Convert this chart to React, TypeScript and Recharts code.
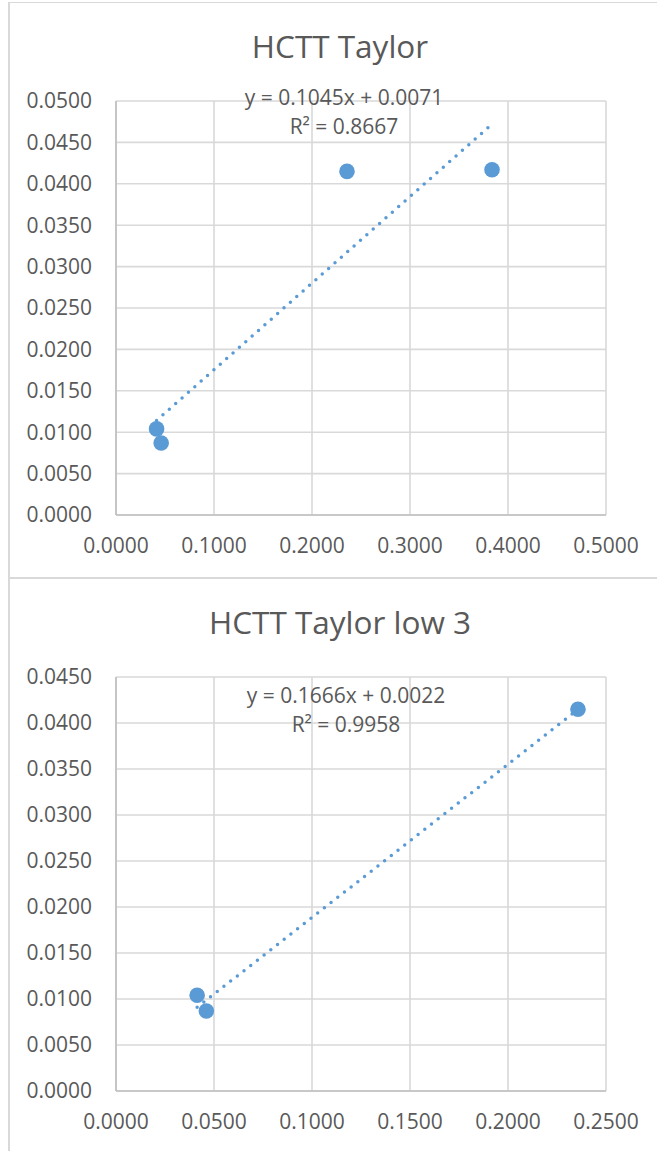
import { ScatterChart, Scatter, XAxis, YAxis, CartesianGrid } from 'recharts';

const ratioX = [0.0414, 0.0461, 0.2357, 0.3837];
const ratioY = [0.0104, 0.0087, 0.0415, 0.0417];

const topTicksX = [0, 0.1, 0.2, 0.3, 0.4, 0.5];
const topTicksY = [0, 0.005, 0.01, 0.015, 0.02, 0.025, 0.03, 0.035, 0.04, 0.045, 0.05];
const lowTicksX = [0, 0.05, 0.1, 0.15, 0.2, 0.25];
const lowTicksY = [0, 0.005, 0.01, 0.015, 0.02, 0.025, 0.03, 0.035, 0.04, 0.045];

// trendline: slope, intercept, R²
const topFit = [0.1045, 0.0071, 0.8667];
const lowFit = [0.1666, 0.0022, 0.9958];

const BLUE = '#5b9bd5';
const TEXT = '#595959';
const FONT = '"Open Sans", sans-serif';

const W = 657;
const H = 576;

const Dot = (props: any) => <circle cx={props.cx} cy={props.cy} r={7.8} fill={BLUE} />;

const Panel = ({ title, xs, ys, ticksX, ticksY, fit, top, labelX, labelY }: any) => {
    const points = xs.map((x: number, i: number) => ({ x, y: ys[i] }));
    const xMin = Math.min(...xs);
    const xMax = Math.max(...xs);
    const trend = [
        { x: xMin, y: fit[0] * xMin + fit[1] },
        { x: xMax, y: fit[0] * xMax + fit[1] },
    ];
    const tick = { fill: TEXT, fontSize: 21, fontFamily: FONT };

    return (
        <div style={{ position: 'absolute', left: 0, top, width: W, height: H }}>
            <ScatterChart width={W} height={H} margin={{ top: 101, right: 51, left: 0, bottom: 31 }}>
                <CartesianGrid stroke="#d9d9d9" strokeWidth={1.6} />
                <XAxis
                    type="number"
                    dataKey="x"
                    domain={[ticksX[0], ticksX[ticksX.length - 1]]}
                    ticks={ticksX}
                    tickFormatter={(v: number) => v.toFixed(4)}
                    tick={tick}
                    tickLine={false}
                    tickSize={0}
                    tickMargin={23}
                    height={30}
                    axisLine={{ stroke: '#bfbfbf', strokeWidth: 1.6 }}
                    allowDataOverflow
                />
                <YAxis
                    type="number"
                    dataKey="y"
                    domain={[ticksY[0], ticksY[ticksY.length - 1]]}
                    ticks={ticksY}
                    tickFormatter={(v: number) => v.toFixed(4)}
                    tick={tick}
                    tickLine={false}
                    tickSize={0}
                    tickMargin={24}
                    width={116}
                    axisLine={{ stroke: '#bfbfbf', strokeWidth: 1.6 }}
                    allowDataOverflow
                />
                <Scatter
                    data={trend}
                    line={{ stroke: BLUE, strokeWidth: 3.5, strokeDasharray: '0 8.5', strokeLinecap: 'round' }}
                    shape={() => <g />}
                    isAnimationActive={false}
                />
                <Scatter data={points} shape={Dot} isAnimationActive={false} />
            </ScatterChart>
            <svg width={W} height={H} style={{ position: 'absolute', left: 0, top: 0, pointerEvents: 'none' }}>
                <text x={340} y={58} textAnchor="middle" fill={TEXT} fontSize={31.5} fontFamily={FONT}>
                    {title}
                </text>
                <text x={labelX} y={labelY} textAnchor="middle" fill={TEXT} fontSize={21} fontFamily={FONT}>
                    {`y = ${fit[0].toFixed(4)}x + ${fit[1].toFixed(4)}`}
                </text>
                <text x={labelX} y={labelY + 29} textAnchor="middle" fill={TEXT} fontSize={21} fontFamily={FONT}>
                    {`R² = ${fit[2].toFixed(4)}`}
                </text>
            </svg>
        </div>
    );
};

export default function App() {
    return (
        <div style={{ position: 'absolute', left: 0, top: 0, width: W, height: 1151, overflow: 'hidden', background: '#fff' }}>
            <div style={{ position: 'absolute', left: 8, top: 2, width: 700, height: 574, borderLeft: '2px solid #d9d9d9', borderTop: '1px solid #d9d9d9', borderBottom: '2px solid #d9d9d9' }} />
            <div style={{ position: 'absolute', left: 8, top: 578, width: 700, height: 600, borderLeft: '2px solid #d9d9d9' }} />
            <Panel title="HCTT Taylor" xs={ratioX} ys={ratioY} ticksX={topTicksX} ticksY={topTicksY} fit={topFit} top={0} labelX={344} labelY={105} />
            <Panel title="HCTT Taylor low 3" xs={ratioX.slice(0, 3)} ys={ratioY.slice(0, 3)} ticksX={lowTicksX} ticksY={lowTicksY} fit={lowFit} top={576} labelX={346} labelY={127} />
        </div>
    );
}
